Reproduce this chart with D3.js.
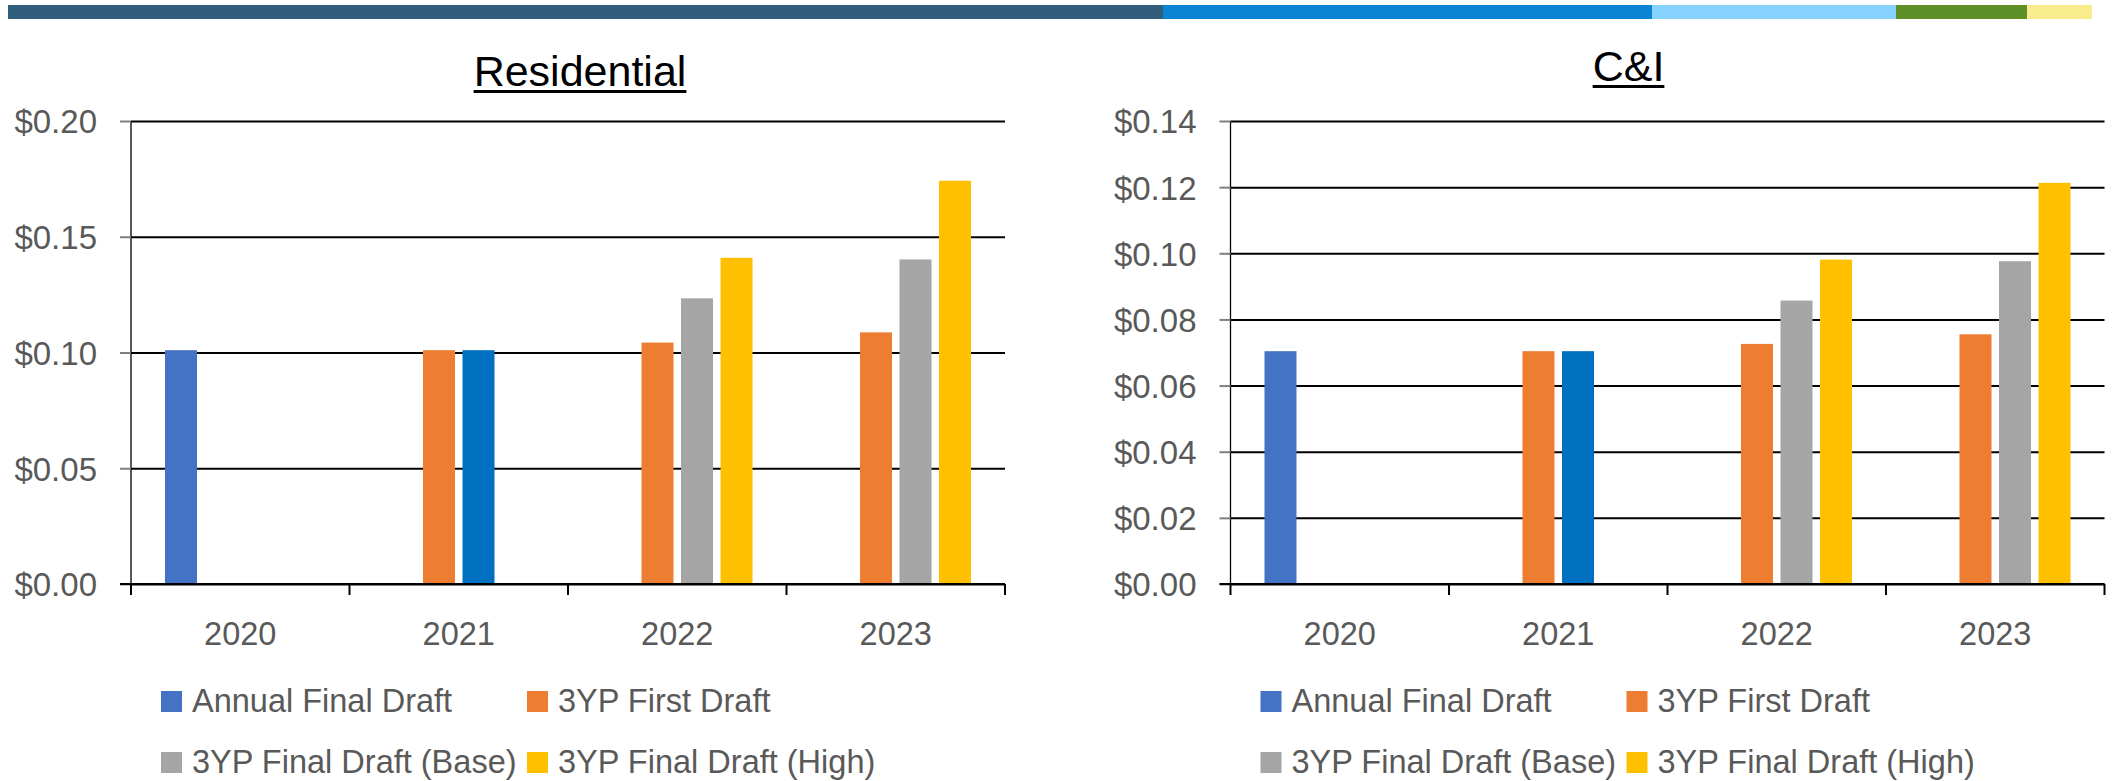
<!DOCTYPE html>
<html>
<head>
<meta charset="utf-8">
<script src="https://cdn.jsdelivr.net/npm/d3@7"></script>
<style>
  body { margin: 0; background: #fff; }
  svg { display: block; font-family: "Liberation Sans", Arial, sans-serif; }
</style>
</head>
<body>
<div id="chart"></div>
<script>
// datos
const years = ["2020", "2021", "2022", "2023"]
const seriesNames = ["Annual Final Draft", "3YP First Draft", "3YP Final Draft (Base)", "3YP Final Draft (High)"]

const resAnnual = [0.101, null, null, null]
const resFirst  = [null, 0.101, 0.1043, 0.1087]
const resBase   = [null, 0.101, 0.1234, 0.1402]
const resHigh   = [null, null, 0.1409, 0.1742]
const resTicks  = [0, 0.05, 0.10, 0.15, 0.20]

const ciAnnual = [0.0704, null, null, null]
const ciFirst  = [null, 0.0704, 0.0726, 0.0755]
const ciBase   = [null, 0.0704, 0.0857, 0.0976]
const ciHigh   = [null, null, 0.0981, 0.1213]
const ciTicks  = [0, 0.02, 0.04, 0.06, 0.08, 0.10, 0.12, 0.14]

// estilos
const colors = ["#4472C4", "#ED7D31", "#A5A5A5", "#FFC000"]
const overrideColor = { series: 2, year: "2021", color: "#0070C0" }
const stripeColors = ["#305D7C", "#0B84D4", "#85D3FE", "#5E8F27", "#F8EC8D"]
const stripeEnds = [8, 1163, 1652, 1896, 2027, 2092]

const width = 2112
const height = 781
const plotW = 874
const plotTop = 121
const plotBottom = 584
const textColor = "#595959"

const svg = d3.select("div#chart")
  .append("svg")
  .attr("width", width)
  .attr("height", height)

// franja superior
svg.append("g").selectAll("rect")
  .data(stripeColors)
  .join("rect")
  .attr("x", (d, i) => stripeEnds[i])
  .attr("y", 5)
  .attr("width", (d, i) => stripeEnds[i + 1] - stripeEnds[i])
  .attr("height", 14)
  .attr("fill", d => d)

function drawChart(opts) {
  const { left, title, titleX, titleY, series, ticks } = opts
  const g = svg.append("g").attr("transform", `translate(${left},0)`)

  const x0 = d3.scaleBand().domain(years).range([0, plotW]).padding(0)
  const x1 = d3.scaleBand().domain(d3.range(seriesNames.length))
    .range([0, x0.bandwidth()]).paddingInner(0.19).paddingOuter(0.86)
  const y = d3.scaleLinear().domain([0, d3.max(ticks)]).range([plotBottom, plotTop])

  // rejilla
  const grid = g.append("g")
    .call(d3.axisLeft(y).tickValues(ticks).tickSize(-plotW).tickFormat(""))
  grid.select(".domain").remove()
  grid.selectAll(".tick line").attr("stroke", "#000").attr("stroke-width", 2)

  // eje y
  const yAxisG = g.append("g")
    .call(d3.axisLeft(y).tickValues(ticks).tickSize(11).tickPadding(23).tickFormat(d3.format("$.2f")))
  yAxisG.select(".domain").attr("stroke", "#000").attr("stroke-width", 1.3).attr("d", `M0,${plotTop}V${plotBottom}`)
  yAxisG.selectAll(".tick line").attr("stroke", "#7f7f7f").attr("stroke-width", 2)
  yAxisG.selectAll(".tick text")
    .attr("fill", textColor)
    .style("font-size", "33px")
    .attr("dy", "0.36em")

  // barras
  const bars = []
  series.forEach((vals, s) => {
    vals.forEach((v, i) => {
      if (v != null) bars.push({ s, year: years[i], v })
    })
  })
  g.append("g").selectAll("rect")
    .data(bars)
    .join("rect")
    .attr("x", d => x0(d.year) + x1(d.s))
    .attr("y", d => y(d.v))
    .attr("width", x1.bandwidth())
    .attr("height", d => y(0) - y(d.v))
    .attr("fill", d => (d.s === overrideColor.series && d.year === overrideColor.year) ? overrideColor.color : colors[d.s])

  // eje x
  const xAxisG = g.append("g")
    .attr("transform", `translate(0,${plotBottom})`)
    .call(d3.axisBottom(x0).tickSize(0).tickPadding(38))
  xAxisG.select(".domain").remove()
  xAxisG.selectAll(".tick text")
    .attr("fill", textColor)
    .style("font-size", "32.5px")
    .attr("dy", "0")
    .attr("y", 61)
  g.append("line")
    .attr("x1", -11).attr("x2", plotW)
    .attr("y1", plotBottom).attr("y2", plotBottom)
    .attr("stroke", "#000").attr("stroke-width", 2)
  g.append("g").selectAll("line")
    .data(years.concat(["end"]))
    .join("line")
    .attr("x1", (d, i) => i < years.length ? x0(d) : plotW)
    .attr("x2", (d, i) => i < years.length ? x0(d) : plotW)
    .attr("y1", plotBottom)
    .attr("y2", plotBottom + 11)
    .attr("stroke", "#000")
    .attr("stroke-width", 2)

  // título
  const t = svg.append("text")
    .attr("x", titleX)
    .attr("y", titleY)
    .attr("text-anchor", "middle")
    .attr("fill", "#000")
    .style("font-size", "43px")
    .text(title)
  const tw = t.node().getComputedTextLength()
  svg.append("rect")
    .attr("x", titleX - tw / 2)
    .attr("y", titleY + 4)
    .attr("width", tw)
    .attr("height", 3)
    .attr("fill", "#000")

  // leyenda
  const legend = g.append("g").selectAll("g")
    .data(seriesNames)
    .join("g")
    .attr("transform", (d, i) => `translate(${30 + (i % 2) * 366},${691 + Math.floor(i / 2) * 61})`)
  legend.append("rect")
    .attr("width", 21).attr("height", 21)
    .attr("fill", (d, i) => colors[i])
  legend.append("text")
    .attr("x", 31)
    .attr("y", 21)
    .attr("fill", textColor)
    .style("font-size", "32.5px")
    .text(d => d)
}

drawChart({
  left: 131, title: "Residential", titleX: 580, titleY: 86,
  series: [resAnnual, resFirst, resBase, resHigh], ticks: resTicks
})
drawChart({
  left: 1230.5, title: "C&I", titleX: 1628.5, titleY: 81,
  series: [ciAnnual, ciFirst, ciBase, ciHigh], ticks: ciTicks
})
</script>
</body>
</html>
